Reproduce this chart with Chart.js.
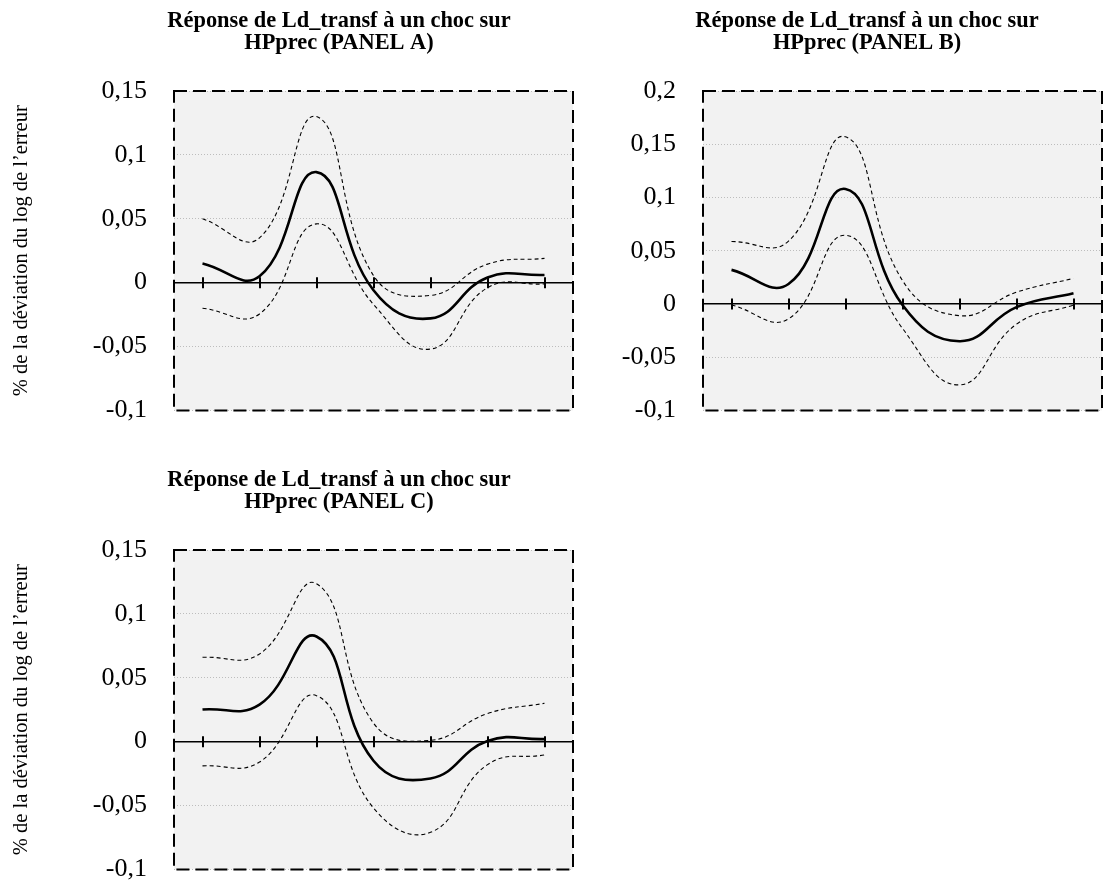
<!DOCTYPE html>
<html>
<head>
<meta charset="utf-8">
<script src="https://cdn.jsdelivr.net/npm/chart.js@4.4.1/dist/chart.umd.min.js"></script>
<style>
  html, body { margin:0; padding:0; background:#fff; overflow:hidden; }
  body { width:1107px; height:888px; position:relative; }
  canvas { position:absolute; }
</style>
</head>
<body>
<canvas id="cA" width="678" height="426" style="left:0px;top:0px;"></canvas>
<canvas id="cB" width="518" height="426" style="left:600px;top:0px;"></canvas>
<canvas id="cC" width="678" height="426" style="left:0px;top:459px;"></canvas>
<script>
// ---- data ----
const periods = ['1','2','3','4','5','6','7'];

const titleLine1 = 'Réponse de Ld_transf à un choc sur';
const titleA = 'HPprec (PANEL A)';
const titleB = 'HPprec (PANEL B)';
const titleC = 'HPprec (PANEL C)';
const yAxisTitle = '% de la déviation du log de l’erreur';

const respA  = [0.015, 0.005, 0.0865, -0.006, -0.028, 0.004, 0.006];
const upperA = [0.050, 0.035, 0.130, 0.0055, -0.010, 0.0145, 0.019];
const lowerA = [-0.020, -0.0245, 0.046, -0.017, -0.052, -0.004, -0.001];

const respB  = [0.032, 0.0187, 0.108, -0.001, -0.035, -0.003, 0.010];
const upperB = [0.0586, 0.059, 0.157, 0.022, -0.011, 0.011, 0.024];
const lowerB = [-0.001, -0.014, 0.0645, -0.023, -0.076, -0.019, -0.001];

const respC  = [0.0252, 0.029, 0.0823, -0.015, -0.0288, 0.0005, 0.002];
const upperC = [0.066, 0.0686, 0.1236, 0.0145, 0.001, 0.022, 0.030];
const lowerC = [-0.019, -0.016, 0.036, -0.052, -0.071, -0.018, -0.0104];

const rangeAC = { min: -0.1, max: 0.15 };
const rangeB  = { min: -0.1, max: 0.2 };
const tickStep = 0.05;

// ---- helpers ----
function fmt(v) {
  const r = Math.round(v * 100) / 100;
  if (Math.abs(r) < 1e-9) return '0';
  return String(r).replace('.', ',');
}

const panelPlugin = {
  id: 'panelDeco',
  beforeDraw(chart) {
    const { ctx, chartArea: a } = chart;
    ctx.save();
    ctx.fillStyle = '#f2f2f2';
    ctx.fillRect(a.left, a.top, a.right - a.left, a.bottom - a.top);
    ctx.restore();
  },
  beforeDatasetsDraw(chart) {
    const { ctx } = chart;
    const xs = chart.scales.x, ys = chart.scales.y;
    const y0 = ys.getPixelForValue(0);
    ctx.save();
    ctx.strokeStyle = '#000';
    ctx.lineWidth = 2;
    for (let i = 0; i < xs.ticks.length; i++) {
      const x = Math.round(xs.getPixelForTick(i));
      ctx.beginPath();
      ctx.moveTo(x, y0 - 5.5);
      ctx.lineTo(x, y0 + 5.5);
      ctx.stroke();
    }
    ctx.restore();
  },
  afterDatasetsDraw(chart) {
    const { ctx, chartArea: a } = chart;
    ctx.save();
    ctx.strokeStyle = '#000';
    ctx.lineWidth = 2;
    ctx.setLineDash([13, 6]);
    ctx.strokeRect(a.left, a.top, a.right - a.left, a.bottom - a.top);
    ctx.restore();
  }
};

function makePanel(id, line2, resp, up, lo, range, opts) {
  const ds = (data, solid) => ({
    data: data,
    borderColor: '#000',
    borderWidth: solid ? 2.6 : 1.1,
    borderDash: solid ? [] : [4, 3],
    pointRadius: 0,
    tension: 0.45,
    fill: false
  });
  return new Chart(document.getElementById(id), {
    type: 'line',
    data: {
      labels: periods,
      datasets: [ds(up, false), ds(lo, false), ds(resp, true)]
    },
    plugins: [panelPlugin],
    options: {
      responsive: false,
      animation: false,
      events: [],
      layout: { padding: { left: opts.padLeft, right: 0, top: 0, bottom: 15 } },
      plugins: {
        legend: { display: false },
        tooltip: { enabled: false },
        title: {
          display: true,
          text: [titleLine1, line2],
          color: '#000',
          font: { family: 'Liberation Serif', size: 22.4, weight: 'bold', lineHeight: 1.0 },
          padding: { top: 10, bottom: 36.2 }
        }
      },
      scales: {
        x: {
          type: 'category',
          offset: true,
          position: { y: 0 },
          ticks: { display: false },
          grid: { display: false },
          border: { display: true, color: '#000', width: 1.6 }
        },
        y: {
          min: range.min,
          max: range.max,
          ticks: {
            stepSize: tickStep,
            autoSkip: false,
            color: '#000',
            padding: 0,
            font: { family: 'Liberation Serif', size: 26 },
            callback: (v) => fmt(v)
          },
          grid: {
            color: (c) => (c.tick && Math.abs(c.tick.value) < 1e-9) ? 'transparent' : '#bdbdbd',
            lineWidth: 1,
            drawTicks: true,
            tickLength: 27,
            tickColor: 'transparent'
          },
          border: { display: false, dash: [1, 2] },
          title: {
            display: opts.showTitle,
            text: yAxisTitle,
            color: '#000',
            font: { family: 'Liberation Serif', size: 20.5 },
            padding: { top: 9, bottom: 0 }
          },
          afterFit: (s) => { s.width = opts.leftW; }
        },
        yR: {
          position: 'right',
          display: true,
          min: range.min,
          max: range.max,
          ticks: { display: false },
          grid: { display: false, drawTicks: false },
          border: { display: false },
          afterFit: (s) => { s.width = opts.rightW; }
        }
      }
    }
  });
}

makePanel('cA', titleA, respA, upperA, lowerA, rangeAC, { padLeft: 0, leftW: 174, rightW: 105, showTitle: true });
makePanel('cB', titleB, respB, upperB, lowerB, rangeB,  { padLeft: 16, leftW: 87, rightW: 16, showTitle: false });
makePanel('cC', titleC, respC, upperC, lowerC, rangeAC, { padLeft: 0, leftW: 174, rightW: 105, showTitle: true });
</script>
</body>
</html>
